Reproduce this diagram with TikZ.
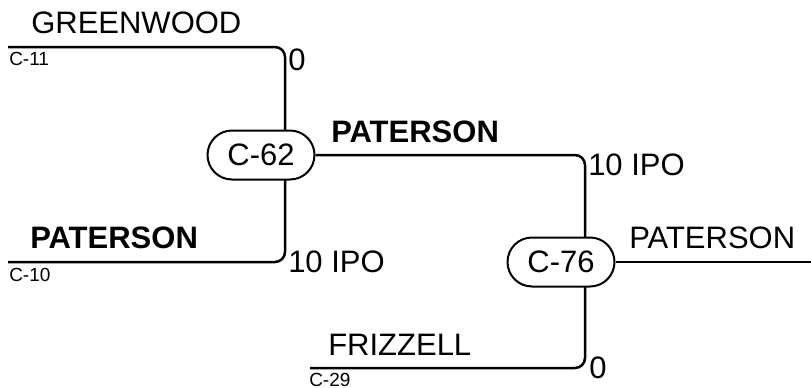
\documentclass[tikz,border=0pt]{standalone}
\usepackage{fontspec}
\setmainfont{Liberation Sans}
\usetikzlibrary{shapes.misc, backgrounds}

\begin{document}
\begin{tikzpicture}[x=1pt, y=-1pt, line width=2.5pt,
    bracket/.style={line width=2.5pt, rounded corners=10pt},
    team/.style={anchor=base west, inner sep=0pt, font=\fontsize{31}{37}\selectfont},
    winner/.style={team, font=\fontsize{31}{37}\selectfont\bfseries},
    seed/.style={anchor=north west, inner sep=0pt, font=\fontsize{19}{23}\selectfont},
    score/.style={anchor=base west, inner sep=0pt, font=\fontsize{31}{37}\selectfont},
    game/.style={rounded rectangle, draw, fill=white, line width=2pt,
        minimum width=107pt, minimum height=49pt, inner sep=0pt,
        font=\fontsize{31}{37}\selectfont}]
    \useasboundingbox (0,0) rectangle (811,388);

    % free ends of the bracket lines
    \coordinate (c11) at (8,47);
    \coordinate (c10) at (8,262);
    \coordinate (c29) at (310,368);
    \coordinate (out) at (811,262);

    % games
    \node[game] (g62) at (261,155) {C-62};
    \node[game] (g76) at (561,262) {C-76};

    % bracket lines, under the game boxes
    \begin{scope}[on background layer]
        \draw[bracket] (c11) -- (285,47) -- (285,262) -- (c10);
        \draw[bracket] (g62.east) -- (585,155) -- (585,368) -- (c29);
    \end{scope}
    \draw[bracket] (g76.east) -- (out);

    % first round
    \node[team] (greenwood) at (30,33) {GREENWOOD};
    \node[seed] (s11) at (8,51) {C-11};
    \node[score] (sc11) at (287,70) {0};
    \node[winner] (paterson1) at (29,248) {PATERSON};
    \node[seed] (s10) at (8,267) {C-10};
    \node[score] (sc10) at (287,272) {10 IPO};

    % second round
    \node[winner] (paterson2) at (330,142) {PATERSON};
    \node[score] (sc62) at (587,175) {10 IPO};
    \node[team] (frizzell) at (327,355) {FRIZZELL};
    \node[seed] (s29) at (308,372) {C-29};
    \node[score] (sc29) at (588,378) {0};

    % result
    \node[team] (paterson3) at (628,248) {PATERSON};
\end{tikzpicture}
\end{document}
